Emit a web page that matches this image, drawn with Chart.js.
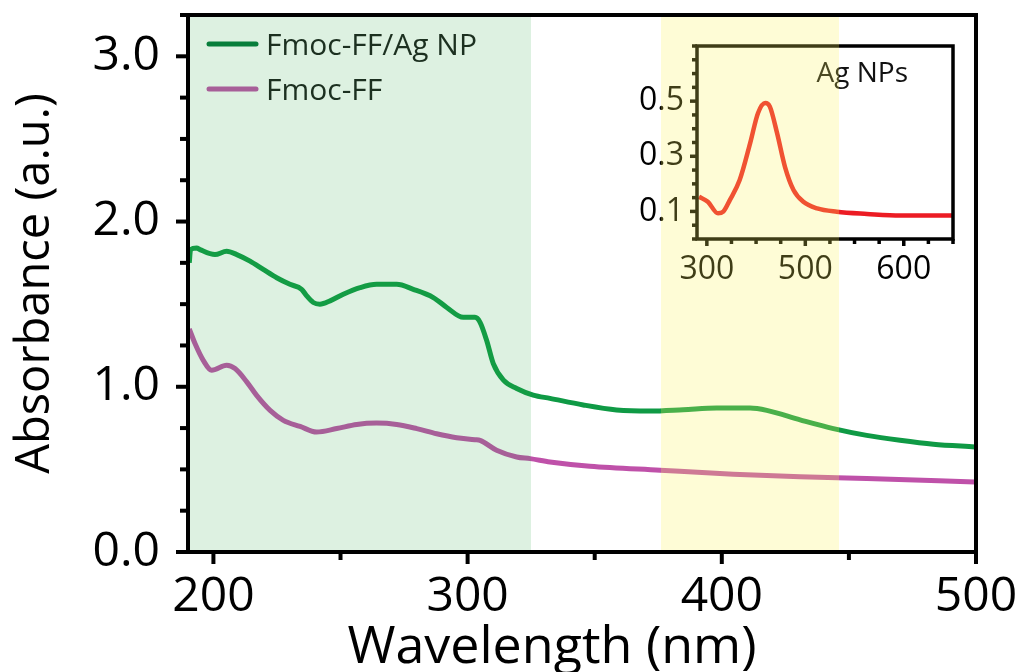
<!DOCTYPE html>
<html>
<head>
<meta charset="utf-8">
<script src="https://cdn.jsdelivr.net/npm/chart.js@4.4.1/dist/chart.umd.min.js"></script>
<style>
  html, body { margin: 0; padding: 0; background: #fff; }
  #wrap { position: relative; width: 1033px; height: 672px; overflow: hidden; }
  #main { position: absolute; left: 0; top: 0; }
  #inset { position: absolute; left: 600px; top: 30px; }
  .band { position: absolute; pointer-events: none; }
</style>
</head>
<body>
<div id="wrap">
  <canvas id="main" width="1033" height="672"></canvas>
  <canvas id="inset" width="370" height="270"></canvas>
</div>
<script>
// Fmoc-FF/Ag NP
const agWavelength = [190.5, 191, 193.4, 194.7, 200.6, 205.2, 209.2, 214.4, 219.6, 224.9, 230.1, 234.7, 236.7, 239.3, 241.9,
  245.9, 251.1, 257.7, 264.2, 272.1, 278.6, 286.5, 291.8, 298.3, 302.9, 304.9, 307.5, 310.1, 314.1, 319.3, 325.8, 332.4,
  345.5, 358.6, 371.7, 384.8, 398, 411.1, 417.7, 430.8, 443.9, 457, 470.1, 483.2, 499.5];
const agAbsorbance = [1.75, 1.83, 1.84, 1.83, 1.80, 1.82, 1.80, 1.76, 1.71, 1.66, 1.62, 1.59, 1.55, 1.51, 1.50,
  1.52, 1.56, 1.60, 1.62, 1.62, 1.59, 1.54, 1.48, 1.42, 1.42, 1.39, 1.28, 1.14, 1.04, 0.99, 0.95, 0.93,
  0.89, 0.86, 0.853, 0.861, 0.871, 0.871, 0.857, 0.80, 0.747, 0.706, 0.676, 0.652, 0.636];

// Fmoc-FF
const ffWavelength = [190.5, 192.8, 196, 199.3, 205.2, 208.5, 213.1, 217, 222.3, 227.5, 234.1, 240.6, 248.5, 256.4, 264.2,
  272.1, 280, 287.8, 295.7, 302.9, 304.9, 311.4, 319.3, 324.6, 332.4, 348.1, 375.7, 404.5, 430.8, 457, 499.5];
const ffAbsorbance = [1.35, 1.26, 1.16, 1.10, 1.13, 1.11, 1.03, 0.948, 0.857, 0.797, 0.760, 0.726, 0.747, 0.772, 0.780,
  0.772, 0.747, 0.716, 0.692, 0.680, 0.676, 0.616, 0.575, 0.565, 0.545, 0.519, 0.495, 0.471, 0.455, 0.445, 0.424];

// inset: Ag NPs
const npWavelength = [288, 301.5, 317, 325, 335, 350, 366, 378, 389, 396, 407, 419, 432, 447, 468, 498, 544, 595, 676];
const npAbsorbance = [0.153, 0.135, 0.093, 0.099, 0.141, 0.214, 0.348, 0.457, 0.493, 0.48, 0.384, 0.262, 0.178,
  0.135, 0.111, 0.099, 0.091, 0.085, 0.085];

// shaded ranges (nm)
const greenBand = [190, 325];
const yellowBand = [376, 446];

// tick labels
const xTickLabels = [200, 300, 400, 500];
const yTickLabels = [0, 1, 2, 3];
const insetYTickLabels = [0.1, 0.3, 0.5];
// the inset axis is printed 300 / 500 / 600 on evenly spaced major ticks
const insetXTickValues = [300, 450, 600];
const insetXTickText = ['300', '500', '600'];

Chart.defaults.font.family = "'Open Sans', sans-serif";
Chart.defaults.color = '#000';

function isLabelled(v, list) {
  return list.some(t => Math.abs(t - v) < 1e-6);
}

function toPoints(xs, ys) {
  return xs.map((x, i) => ({ x: x, y: ys[i] }));
}

// frame around the plot plus outward tick marks (long ones where there is a label)
const frameAndTicks = {
  id: 'frameAndTicks',
  afterDraw(chart, args, opts) {
    const { ctx, chartArea: a } = chart;
    ctx.save();
    ctx.strokeStyle = '#000';
    ctx.lineWidth = opts.width;
    ['x', 'y'].forEach(id => {
      const s = chart.scales[id];
      s.ticks.forEach(t => {
        const len = t.label !== '' ? opts.major : opts.minor;
        const p = s.getPixelForValue(t.value);
        ctx.beginPath();
        if (id === 'x') {
          ctx.moveTo(p, a.bottom);
          ctx.lineTo(p, a.bottom + len);
        } else {
          ctx.moveTo(a.left - len, p);
          ctx.lineTo(a.left, p);
        }
        ctx.stroke();
      });
    });
    ctx.strokeRect(a.left, a.top, a.right - a.left, a.bottom - a.top);
    ctx.restore();
  }
};

// legend inside the plot
const innerLegend = {
  id: 'innerLegend',
  afterDatasetsDraw(chart, args, opts) {
    if (!opts.show) return;
    const { ctx, chartArea: a } = chart;
    ctx.save();
    ctx.font = opts.font;
    ctx.textBaseline = 'middle';
    ctx.fillStyle = '#1a1a1a';
    ctx.lineWidth = 5;
    ctx.lineCap = 'round';
    chart.data.datasets.forEach((ds, i) => {
      const y = a.top + 29 + i * 45;
      ctx.strokeStyle = opts.colors[i];
      ctx.beginPath();
      ctx.moveTo(a.left + 21, y);
      ctx.lineTo(a.left + 68, y);
      ctx.stroke();
      ctx.fillText(ds.label, a.left + 78, y + 2);
    });
    ctx.restore();
  }
};

// x axis caption, sits a bit left of the plot centre in the original
const xCaption = {
  id: 'xCaption',
  afterDraw(chart, args, opts) {
    if (!opts.text) return;
    const { ctx, chartArea: a } = chart;
    ctx.save();
    ctx.font = opts.font;
    ctx.fillStyle = '#000';
    ctx.textAlign = 'center';
    ctx.textBaseline = 'alphabetic';
    ctx.fillText(opts.text, a.left + 364, a.bottom + 111);
    ctx.restore();
  }
};

// text label inside the inset
const cornerText = {
  id: 'cornerText',
  afterDraw(chart, args, opts) {
    if (!opts.text) return;
    const { ctx, chartArea: a } = chart;
    ctx.save();
    ctx.font = opts.font;
    ctx.fillStyle = '#111';
    ctx.textAlign = 'right';
    ctx.textBaseline = 'alphabetic';
    ctx.fillText(opts.text, a.right - 45, a.top + 36);
    ctx.restore();
  }
};

const mainChart = new Chart(document.getElementById('main'), {
  type: 'line',
  data: {
    datasets: [{
      label: 'Fmoc-FF/Ag NP',
      data: toPoints(agWavelength, agAbsorbance),
      borderColor: '#0f9a45',
      borderWidth: 5,
      pointRadius: 0,
      cubicInterpolationMode: 'monotone',
      borderJoinStyle: 'round'
    }, {
      label: 'Fmoc-FF',
      data: toPoints(ffWavelength, ffAbsorbance),
      borderColor: '#bf51a9',
      borderWidth: 5,
      pointRadius: 0,
      cubicInterpolationMode: 'monotone',
      borderJoinStyle: 'round'
    }]
  },
  plugins: [frameAndTicks, innerLegend, xCaption],
  options: {
    responsive: false,
    animation: false,
    devicePixelRatio: 1,
    layout: { padding: { left: 0, top: 15, right: 57, bottom: 0 } },
    plugins: {
      legend: { display: false },
      tooltip: { enabled: false },
      frameAndTicks: { width: 4, major: 12, minor: 8 },
      innerLegend: { show: true, font: "30px 'Open Sans', sans-serif", colors: ['#00773a', '#bf51a9'] },
      xCaption: { text: 'Wavelength (nm)', font: "52px 'Open Sans', sans-serif" }
    },
    scales: {
      x: {
        type: 'linear',
        min: 190,
        max: 500,
        afterFit: s => { s.height = 120; s.paddingLeft = 0; s.paddingRight = 0; },
        border: { display: false },
        grid: { drawOnChartArea: false, tickLength: 12, color: 'rgba(0,0,0,0)' },
        ticks: {
          stepSize: 50,
          includeBounds: false,
          autoSkip: false,
          maxRotation: 0,
          padding: 5,
          font: { size: 48 },
          callback: v => isLabelled(v, xTickLabels) ? String(v) : ''
        }
      },
      y: {
        min: 0,
        max: 3.25,
        afterFit: s => { s.width = 188; s.paddingTop = 0; s.paddingBottom = 0; },
        border: { display: false },
        grid: { drawOnChartArea: false, tickLength: 12, color: 'rgba(0,0,0,0)' },
        ticks: {
          stepSize: 0.25,
          autoSkip: false,
          padding: 16,
          font: { size: 48 },
          callback: v => isLabelled(v, yTickLabels) ? v.toFixed(1) : ''
        },
        title: { display: true, text: 'Absorbance (a.u.)', font: { size: 47 }, padding: { top: 7, bottom: 0 } }
      }
    }
  }
});

new Chart(document.getElementById('inset'), {
  type: 'line',
  data: {
    datasets: [{
      label: 'Ag NPs',
      data: toPoints(npWavelength, npAbsorbance),
      borderColor: '#ec1c24',
      borderWidth: 4.5,
      pointRadius: 0,
      cubicInterpolationMode: 'monotone'
    }]
  },
  plugins: [frameAndTicks, cornerText],
  options: {
    responsive: false,
    animation: false,
    devicePixelRatio: 1,
    layout: { padding: { left: 0, top: 16, right: 17, bottom: 0 } },
    plugins: {
      legend: { display: false },
      tooltip: { enabled: false },
      frameAndTicks: { width: 3.5, major: 7, minor: 5 },
      cornerText: { text: 'Ag NPs', font: "28px 'Open Sans', sans-serif" }
    },
    scales: {
      x: {
        type: 'linear',
        min: 285,
        max: 675,
        afterFit: s => { s.height = 61; s.paddingLeft = 0; s.paddingRight = 0; },
        border: { display: false },
        grid: { drawOnChartArea: false, tickLength: 6, color: 'rgba(0,0,0,0)' },
        ticks: {
          stepSize: 37.5,
          includeBounds: false,
          autoSkip: false,
          maxRotation: 0,
          padding: 6,
          font: { size: 32 },
          callback: v => {
            const i = insetXTickValues.findIndex(t => Math.abs(t - v) < 1e-6);
            return i >= 0 ? insetXTickText[i] : '';
          }
        }
      },
      y: {
        min: 0,
        max: 0.7,
        afterFit: s => { s.width = 97; s.paddingTop = 0; s.paddingBottom = 0; },
        border: { display: false },
        grid: { drawOnChartArea: false, tickLength: 6, color: 'rgba(0,0,0,0)' },
        ticks: {
          stepSize: 0.05,
          autoSkip: false,
          padding: 7,
          font: { size: 32 },
          callback: v => isLabelled(v, insetYTickLabels) ? v.toFixed(1) : ''
        }
      }
    }
  }
});

// translucent bands laid over both plots
function addBand(range, color) {
  const a = mainChart.chartArea;
  const sx = mainChart.scales.x;
  const left = Math.max(sx.getPixelForValue(range[0]), a.left + 2);
  const right = Math.min(sx.getPixelForValue(range[1]), a.right - 2);
  const div = document.createElement('div');
  div.className = 'band';
  div.style.left = left + 'px';
  div.style.width = (right - left) + 'px';
  div.style.top = (a.top + 2) + 'px';
  div.style.height = (a.bottom - a.top - 4) + 'px';
  div.style.background = color;
  document.getElementById('wrap').appendChild(div);
}

addBand(greenBand, 'rgba(42,168,68,0.16)');
addBand(yellowBand, 'rgba(252,244,92,0.25)');
</script>
</body>
</html>
